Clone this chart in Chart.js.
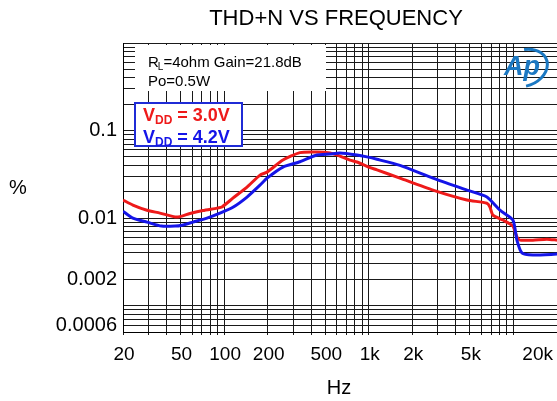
<!DOCTYPE html>
<html>
<head>
<meta charset="utf-8">
<script src="https://cdn.jsdelivr.net/npm/chart.js@4.4.1/dist/chart.umd.min.js"></script>
<style>
html,body{margin:0;padding:0;background:#fff;}
canvas{display:block;}
</style>
</head>
<body>
<canvas id="c" width="557" height="401"></canvas>
<script>
// ---- data ----
const freqRed = [20, 23.4, 29.3, 36, 45.8, 49.5, 58.1, 71.4, 89.3, 96.7, 115, 144, 177, 198, 255, 334, 438, 539, 632, 741, 828, 971, 1139, 1642, 2776, 4770, 6554, 6877, 7212, 8456, 9914, 10566, 11082, 13628, 17028, 20000];
const thdRed  = [0.0161, 0.0141, 0.0123, 0.0114, 0.0103, 0.0104, 0.0113, 0.0122, 0.0130, 0.0134, 0.0169, 0.0226, 0.031, 0.0335, 0.046, 0.056, 0.0568, 0.0553, 0.0511, 0.046, 0.0437, 0.039, 0.0355, 0.0286, 0.0209, 0.0161, 0.0148, 0.0134, 0.0108, 0.0095, 0.0081, 0.0061, 0.0056, 0.0056, 0.00575, 0.0056];
const freqBlue = [20, 23.4, 29.3, 36.9, 45.8, 51.1, 60.9, 76.1, 93.6, 115, 144, 177, 198, 255, 334, 438, 539, 632, 828, 971, 1139, 1642, 2776, 4770, 6554, 8062, 9914, 10566, 11440, 13628, 20000];
const thdBlue  = [0.012, 0.0100, 0.0090, 0.0081, 0.0081, 0.0083, 0.0090, 0.0100, 0.0114, 0.0133, 0.0174, 0.0238, 0.0286, 0.0383, 0.044, 0.0525, 0.0539, 0.0553, 0.0525, 0.050, 0.047, 0.040, 0.0286, 0.0209, 0.0174, 0.0123, 0.0095, 0.0056, 0.0040, 0.00378, 0.00388];

const xTickValues = [20, 50, 100, 200, 500, 1000, 2000, 5000, 20000];
const xTickText   = ['20', '50', '100', '200', '500', '1k', '2k', '5k', '20k'];
const yTickValues = [0.1, 0.01, 0.002, 0.0006];
const yTickText   = ['0.1', '0.01', '0.002', '0.0006'];

const titleText = 'THD+N VS FREQUENCY';
const xTitle = 'Hz';
const yTitle = '%';
const seriesNames = ['3.0V', '4.2V'];

// grid lines (1..9 per decade)
function decadeGrid(lo, hi) {
  const out = [];
  for (let e = -6; e <= 6; e++) {
    for (let m = 1; m <= 9; m++) {
      const v = +(m * Math.pow(10, e)).toPrecision(6);
      if (v >= lo * 0.9999 && v <= hi * 1.0001) out.push(v);
    }
  }
  return out;
}
const xGrid = decadeGrid(20, 20000);
const yGrid = decadeGrid(0.0005, 1);

const FONT = '"Liberation Sans", Arial, sans-serif';
const RED = '#ee1a1a';
const BLUE = '#1414e8';

const overlay = {
  id: 'overlay',
  afterDraw(chart) {
    const ctx = chart.ctx;
    const xs = chart.scales.x;
    const W = chart.width;
    ctx.save();
    // title
    ctx.fillStyle = '#000';
    ctx.font = '22px ' + FONT;
    ctx.textAlign = 'center';
    ctx.textBaseline = 'middle';
    ctx.fillText(titleText, 336, 19);
    // x tick labels
    ctx.font = '19px ' + FONT;
    xTickValues.forEach((v, i) => {
      const px = xs.getPixelForValue(v);
      const w = ctx.measureText(xTickText[i]).width;
      if (px + w / 2 > W - 3) {
        ctx.textAlign = 'right';
        ctx.fillText(xTickText[i], W - 4, 355);
      } else {
        ctx.textAlign = 'center';
        ctx.fillText(xTickText[i], px + 1, 355);
      }
    });
    // axis titles
    ctx.textAlign = 'center';
    ctx.font = '20px ' + FONT;
    ctx.fillText(xTitle, 339, 388);
    ctx.fillText(yTitle, 18, 188);

    // condition box
    ctx.fillStyle = '#fff';
    ctx.fillRect(135, 45, 191, 46);
    ctx.fillStyle = '#000';
    ctx.textAlign = 'left';
    ctx.textBaseline = 'alphabetic';
    ctx.font = '15px ' + FONT;
    let x = 148;
    ctx.fillText('R', x, 67); x += ctx.measureText('R').width;
    ctx.font = '10px ' + FONT;
    ctx.fillText('L', x - 1, 70); x += ctx.measureText('L').width - 1;
    ctx.font = '15px ' + FONT;
    ctx.fillText('=4ohm Gain=21.8dB', x, 67);
    ctx.fillText('Po=0.5W', 148, 86);

    // legend box
    ctx.fillStyle = '#fff';
    ctx.fillRect(135, 103, 107, 43);
    ctx.strokeStyle = '#1f2bd6';
    ctx.lineWidth = 2;
    ctx.strokeRect(135, 103, 107, 43);
    const leg = (y, color, name) => {
      ctx.fillStyle = color;
      let lx = 143;
      ctx.font = 'bold 18px ' + FONT;
      ctx.fillText('V', lx, y); lx += ctx.measureText('V').width;
      ctx.font = 'bold 12px ' + FONT;
      ctx.fillText('DD', lx, y + 3); lx += ctx.measureText('DD').width;
      ctx.font = 'bold 18px ' + FONT;
      ctx.fillText(' = ' + name, lx, y);
    };
    leg(121, RED, seriesNames[0]);
    leg(143, BLUE, seriesNames[1]);

    // Ap logo
    ctx.fillStyle = '#1b78c2';
    ctx.strokeStyle = '#1b78c2';
    ctx.font = 'italic bold 27px ' + FONT;
    ctx.textAlign = 'center';
    ctx.textBaseline = 'middle';
    ctx.fillText('Ap', 522, 68);
    ctx.lineWidth = 3;
    ctx.beginPath();
    ctx.ellipse(524, 68, 24, 18, -0.35, -1.3, 1.75);
    ctx.stroke();
    ctx.restore();
  }
};

const chart = new Chart(document.getElementById('c'), {
  type: 'line',
  data: {
    datasets: [
      {
        label: 'VDD = ' + seriesNames[0],
        data: freqRed.map((f, i) => ({ x: f, y: thdRed[i] })),
        borderColor: RED, borderWidth: 3, pointRadius: 0, tension: 0.2, order: 2
      },
      {
        label: 'VDD = ' + seriesNames[1],
        data: freqBlue.map((f, i) => ({ x: f, y: thdBlue[i] })),
        borderColor: BLUE, borderWidth: 3, pointRadius: 0, tension: 0.2, order: 1
      }
    ]
  },
  options: {
    responsive: false,
    animation: false,
    devicePixelRatio: 1,
    layout: { padding: { top: 43, left: 0, right: 0, bottom: 0 } },
    plugins: { legend: { display: false }, title: { display: false }, tooltip: { enabled: false } },
    scales: {
      x: {
        type: 'logarithmic',
        min: 20, max: 20000,
        afterBuildTicks: s => { s.ticks = xGrid.map(v => ({ value: v })); },
        afterFit: s => { s.height = 69; },
        ticks: { display: false },
        grid: { color: '#1a1a1a', lineWidth: 1, drawTicks: true, tickLength: 3, tickColor: '#1a1a1a' },
        border: { display: true, color: '#000', width: 1 }
      },
      y: {
        type: 'logarithmic',
        min: 0.0005, max: 1,
        afterBuildTicks: s => { s.ticks = yGrid.map(v => ({ value: v })); },
        afterFit: s => { s.width = 123; },
        ticks: {
          autoSkip: false,
          padding: 6,
          color: '#000',
          font: { size: 20, family: FONT },
          callback: (v) => {
            const i = yTickValues.findIndex(t => Math.abs(t - v) / t < 1e-6);
            return i >= 0 ? yTickText[i] : '';
          }
        },
        grid: { color: '#1a1a1a', lineWidth: 1, drawTicks: false },
        border: { display: true, color: '#000', width: 1 }
      }
    }
  },
  plugins: [overlay]
});
</script>
</body>
</html>
